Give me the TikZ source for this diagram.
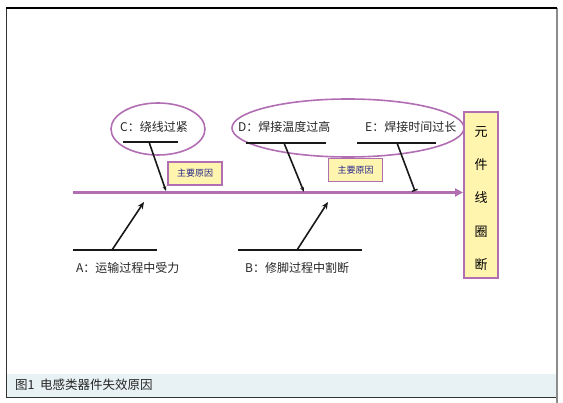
\documentclass[tikz,border=0pt]{standalone}
\usepackage{fontspec}
\setmainfont{Liberation Sans}
\newfontfamily\cjk{Noto Sans CJK SC}
\usetikzlibrary{arrows.meta}
\definecolor{spine}{RGB}{178,110,178}
\definecolor{boxfill}{RGB}{255,245,175}
\definecolor{capfill}{RGB}{232,241,243}
\definecolor{tagtext}{RGB}{40,40,140}
\tikzset{
  lbl/.style={font=\cjk\fontsize{12}{14}\selectfont, anchor=west, inner sep=0pt, text=black!85},
  barline/.style={line width=2pt, black!90},
  branch/.style={line width=1.6pt, black!90},
  ring/.style={draw=spine, line width=1.6pt},
  tagbox/.style={draw=spine, line width=1.4pt, fill=boxfill, font=\cjk\fontsize{9}{10}\selectfont, text=tagtext, minimum width=54pt, minimum height=23pt, inner sep=0pt},
}
\begin{document}
\begin{tikzpicture}[x=1pt,y=-1pt]
\useasboundingbox (0,0) rectangle (563,403);
% frame
\fill[capfill] (6,374) rectangle (556,397);
\draw[black!80, line width=0.8pt] (6.5,8) -- (6.5,397.5) -- (556,397.5);
\draw[black!45, line width=1.2pt] (557,8) -- (557,403);
\draw[black, line width=2.2pt] (6,8) -- (557,8);
\node[anchor=west, font=\cjk\fontsize{12.5}{14}\selectfont, text=black!85, inner sep=0pt] (cap) at (15,385) {图1\ \ 电感类器件失效原因};

% effect box
\node[draw=spine, line width=2pt, fill=boxfill, minimum width=34pt, minimum height=166pt, inner sep=0pt] (eff) at (481,195) {};
\foreach \c/\yy in {元/132,件/165,线/198,圈/232,断/265}
  \node[font=\cjk\fontsize{13}{14}\selectfont, inner sep=0pt] at (481,\yy) {\c};

% spine
\coordinate (s0) at (73,192.5);
\coordinate (s1) at (eff.west |- 0,192.5);
\draw[spine, line width=2.4pt, -{Triangle[length=8pt,width=8pt]}] (s0) -- (s1);

% ellipses
\draw[ring] (158,129) ellipse (47pt and 26pt);
\draw[ring] (348,128) ellipse (116pt and 29pt);

% C
\node[lbl] (ct) at (120,127) {C：绕线过紧};
\coordinate (cb0) at (123,142); \coordinate (cb1) at (178,142);
\draw[barline] (cb0) -- (cb1);
\coordinate (cs) at (149,142); \coordinate (ce) at (166,191);
\draw[branch, -{Stealth[length=5pt,width=4pt]}] (cs) -- (ce);

% D
\node[lbl] (dt) at (238,127) {D：焊接温度过高};
\coordinate (db0) at (246,143); \coordinate (db1) at (326,143);
\draw[barline] (db0) -- (db1);
\coordinate (ds) at (284,143); \coordinate (de) at (304,192);
\draw[branch, -{Stealth[length=5pt,width=4pt]}] (ds) -- (de);

% E
\node[lbl] (et) at (365,127) {E：焊接时间过长};
\coordinate (eb0) at (357,143); \coordinate (eb1) at (436,143);
\draw[barline] (eb0) -- (eb1);
\coordinate (es) at (397,143); \coordinate (ee) at (415,191);
\draw[branch, -{Bar[width=6pt,line width=1.4pt]}] (es) -- (ee);

% tags
\node[tagbox] (t1) at (195,173.5) {主要原因};
\node[tagbox] (t2) at (355.5,170) {主要原因};

% A
\coordinate (ab0) at (73,250); \coordinate (ab1) at (157,250);
\draw[barline] (ab0) -- (ab1);
\coordinate (as) at (112,250); \coordinate (ae) at (144,202);
\draw[branch, -{Stealth[length=7pt,width=6pt]}] (as) -- (ae);
\node[lbl] (at) at (76,268) {A：运输过程中受力};

% B
\coordinate (bb0) at (238,250); \coordinate (bb1) at (362,250);
\draw[barline] (bb0) -- (bb1);
\coordinate (bs) at (297,250); \coordinate (be) at (328,202);
\draw[branch, -{Stealth[length=7pt,width=6pt]}] (bs) -- (be);
\node[lbl] (bt) at (245,268) {B：修脚过程中割断};
\end{tikzpicture}
\end{document}
